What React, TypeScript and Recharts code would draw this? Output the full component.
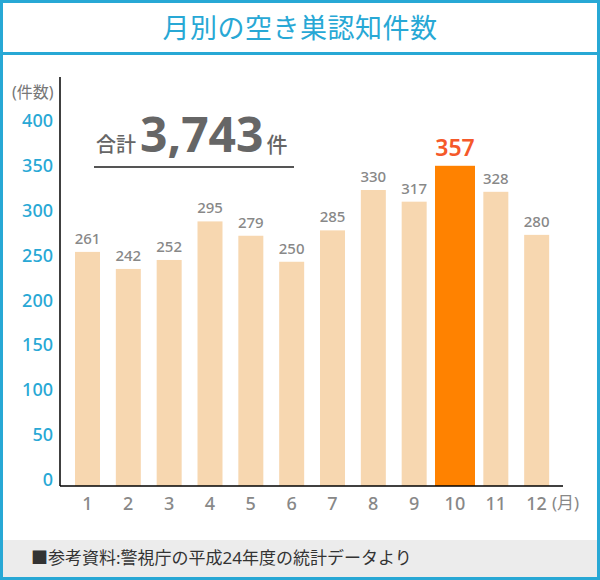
import React from 'react';
import { BarChart, Bar, XAxis, YAxis, LabelList } from 'recharts';

const months = ['1', '2', '3', '4', '5', '6', '7', '8', '9', '10', '11', '12'];
const counts = [261, 242, 252, 295, 279, 250, 285, 330, 317, 357, 328, 280];
const highlightMonth = '10';
const yTicks = [0, 50, 100, 150, 200, 250, 300, 350, 400];
const totalText = '3,743';
const titleText = '月別の空き巣認知件数';
const footerText = '■参考資料:警視庁の平成24年度の統計データより';

const data = months.map((m, i) => ({ month: m, count: counts[i] }));

const FONT = "'Noto Sans', 'Noto Sans CJK JP', sans-serif";
const TEAL = '#28a8d5';

const YTick = (props: any) => {
  const { x, y, payload } = props;
  return (
    <text x={x} y={y - 7} textAnchor="end" dominantBaseline="central" fill={TEAL} fontSize={18} fontWeight={500} fontFamily={FONT}>
      {payload.value}
    </text>
  );
};

const XTick = (props: any) => {
  const { x, y, payload } = props;
  return (
    <text x={x} y={y + 17} textAnchor="middle" dominantBaseline="central" fill="#888" fontSize={18} fontWeight={500} fontFamily={FONT}>
      {payload.value}
    </text>
  );
};

const BarShape = (props: any) => {
  const { x, y, width, height, payload } = props;
  const hl = payload && payload.month === highlightMonth;
  const w = hl ? 40 : width;
  const nx = x + width / 2 - w / 2;
  return <rect x={nx} y={y} width={w} height={height} fill={hl ? '#ff8200' : '#f7d7b0'} />;
};

const BarLabel = (props: any) => {
  const { x, y, width, value, index } = props;
  const hl = months[index] === highlightMonth;
  const cx = x + width / 2;
  if (hl) {
    return (
      <text x={cx} y={y - 19} textAnchor="middle" dominantBaseline="central" fill="#f5592a" fontSize={23} fontWeight={600} fontFamily={FONT}>
        {value}
      </text>
    );
  }
  return (
    <text x={cx} y={y - 14} textAnchor="middle" dominantBaseline="central" fill="#888" fontSize={15} fontWeight={500} fontFamily={FONT}>
      {value}
    </text>
  );
};

export default function App() {
  return (
    <div style={{ position: 'absolute', left: 0, top: 0, width: 600, height: 580, background: '#fff', fontFamily: FONT }}>
      <div style={{ position: 'absolute', left: 0, top: 0, width: 600, height: 580, boxSizing: 'border-box', border: `3px solid ${TEAL}` }} />
      <div style={{ position: 'absolute', left: 3, right: 3, top: 52, height: 3, background: TEAL }} />
      <div style={{ position: 'absolute', left: 0, width: 600, top: 8, height: 40, lineHeight: '40px', textAlign: 'center', color: TEAL, fontSize: 27, letterSpacing: 0.5 }}>
        {titleText}
      </div>
      <div style={{ position: 'absolute', left: 3, right: 3, top: 540, bottom: 3, background: '#ececec' }} />
      <div style={{ position: 'absolute', left: 31, top: 546, height: 24, lineHeight: '24px', fontSize: 17, color: '#333', whiteSpace: 'nowrap' }}>
        {footerText}
      </div>
      <div style={{ position: 'absolute', left: 0, top: 0 }}>
        <BarChart width={600} height={580} data={data} margin={{ top: 77, right: 37, left: 0, bottom: 64 }}>
          <XAxis
            dataKey="month"
            height={30}
            padding={{ left: 7, right: 6 }}
            axisLine={{ stroke: '#000', strokeWidth: 1.5 }}
            tickLine={false}
            tickSize={0}
            tickMargin={0}
            interval={0}
            tick={XTick}
          />
          <YAxis
            width={60}
            domain={[0, 456]}
            ticks={yTicks}
            interval={0}
            axisLine={{ stroke: '#000', strokeWidth: 1.5 }}
            tickLine={false}
            tickSize={0}
            tickMargin={7}
            tick={YTick}
          />
          <Bar dataKey="count" barSize={25} isAnimationActive={false} shape={BarShape}>
            <LabelList dataKey="count" content={BarLabel} />
          </Bar>
        </BarChart>
      </div>
      <div style={{ position: 'absolute', left: 12, top: 80, height: 24, lineHeight: '24px', fontSize: 16, color: '#777', whiteSpace: 'nowrap' }}>(件数)</div>
      <div style={{ position: 'absolute', left: 552, top: 491, height: 24, lineHeight: '24px', fontSize: 17, color: '#888', whiteSpace: 'nowrap' }}>(月)</div>
      <div style={{ position: 'absolute', left: 96, top: 108, height: 56, whiteSpace: 'nowrap', color: '#666', display: 'flex', alignItems: 'baseline' }}>
        <span style={{ fontSize: 20, fontWeight: 500 }}>合計</span>
        <span style={{ fontSize: 48, fontWeight: 700, letterSpacing: 0, marginLeft: 4, lineHeight: '52px' }}>{totalText}</span>
        <span style={{ fontSize: 21, fontWeight: 500, marginLeft: 3 }}>件</span>
      </div>
      <div style={{ position: 'absolute', left: 94, top: 166, width: 200, height: 1.5, background: '#555' }} />
    </div>
  );
}
